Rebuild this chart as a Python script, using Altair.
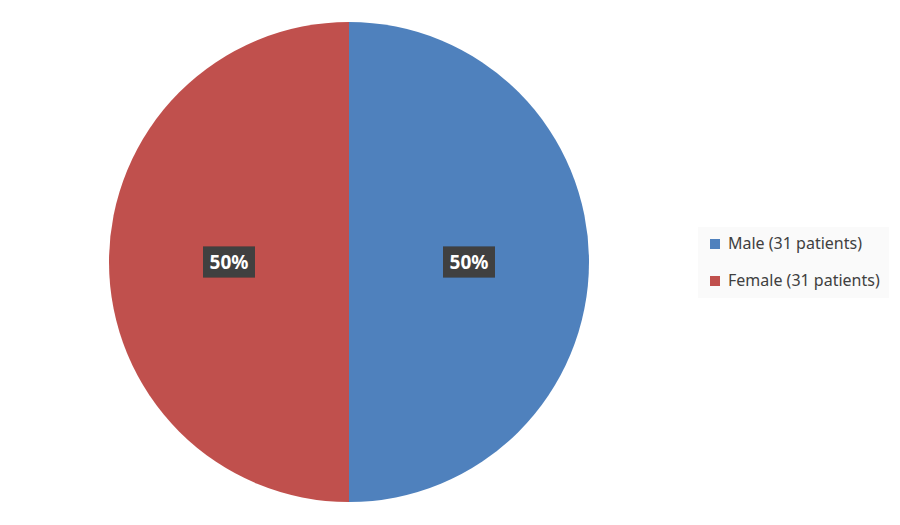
import altair as alt
import pandas as pd

categories = ["Male (31 patients)", "Female (31 patients)"]
values = [31, 31]
labels = ["50%", "50%"]
colors = ["#4f81bd", "#c0504d"]

df = pd.DataFrame({"cat": categories, "v": values, "lab": labels, "order": list(range(len(categories)))})

CX, CY, R = 341, 254, 240

base = alt.Chart(df)

pie = base.mark_arc(radius=R, strokeWidth=0).encode(
    theta=alt.Theta("v:Q", stack=True),
    order=alt.Order("order:Q"),
    color=alt.Color("cat:N", scale=alt.Scale(domain=categories, range=colors),
                    sort=categories,
                    legend=alt.Legend(title=None, orient="none", legendX=690, legendY=219,
                                      fillColor="#fafafa", padding=9,
                                      symbolType="square", symbolSize=100, symbolStrokeWidth=0,
                                      labelFontSize=16, labelFont="Noto Sans", labelColor="#404040",
                                      rowPadding=21, labelOffset=5, labelLimit=300)),
    x=alt.value(CX), y=alt.value(CY),
)

pos = base.transform_joinaggregate(total="sum(v)").transform_window(
    cum="sum(v)", sort=[alt.SortField("order")], frame=[None, 0]
).transform_calculate(
    mid="(datum.cum - datum.v/2)/datum.total*2*PI",
    lx="sin(datum.mid)*0.5",
    ly="cos(datum.mid)*0.5",
)
xenc = alt.X("lx:Q", scale=alt.Scale(domain=[-1, 1], range=[CX - R, CX + R]), axis=None)
yenc = alt.Y("ly:Q", scale=alt.Scale(domain=[-1, 1], range=[CY + R, CY - R]), axis=None)

box_path = "M-1,-0.6H1V0.6H-1Z"
shadow = pos.mark_point(shape=box_path, size=2704, filled=True, fill="#000000", opacity=0.25,
                        strokeWidth=0, dx=3, dy=3).encode(x=xenc, y=yenc)
box = pos.mark_point(shape=box_path, size=2704, filled=True, fill="#404040", opacity=1,
                     strokeWidth=0).encode(x=xenc, y=yenc)
txt = pos.mark_text(font="Noto Sans", fontSize=19, fontWeight="bold", color="white",
                    baseline="middle", align="center", dy=1).encode(x=xenc, y=yenc, text="lab:N")

chart = alt.layer(pie, shadow, box, txt).properties(
    width=884, height=509, autosize=alt.AutoSizeParams(type="none"), padding=0
).configure_view(stroke=None)

chart.save("out.html", embed_options={"renderer": "svg", "actions": False})
